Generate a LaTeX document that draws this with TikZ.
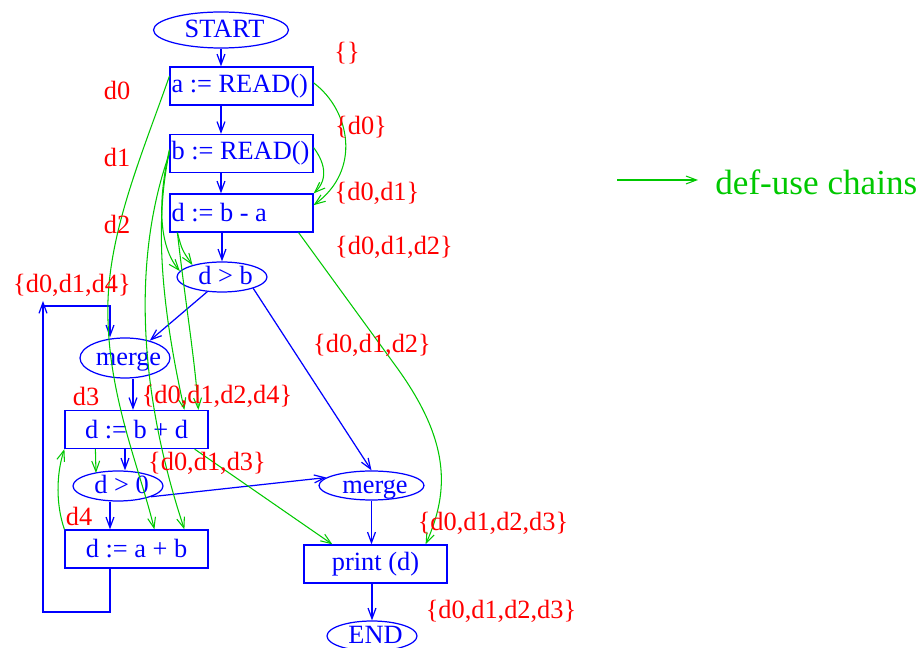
\documentclass[tikz,border=0pt]{standalone}
\usepackage{fontspec}
\setmainfont{Liberation Serif}
\usetikzlibrary{shapes.geometric,arrows.meta,calc}
\definecolor{fgblue}{RGB}{0,0,255}
\definecolor{fggreen}{RGB}{0,200,0}
\definecolor{fgred}{RGB}{255,0,0}
\begin{document}
\begin{tikzpicture}[x=0.02cm,y=-0.02cm,
 every node/.style={font=\fontsize{15}{18}\selectfont},
 bline/.style={draw=fgblue, line width=0.7pt, -{Straight Barb[length=6pt,width=4.5pt]}},
 gline/.style={draw=fggreen, line width=0.6pt, -{Straight Barb[length=6pt,width=4.5pt]}},
 box/.style={draw=fgblue, line width=0.7pt, text=fgblue, minimum width=2.86cm, minimum height=0.76cm, inner sep=0pt, align=center},
 lbox/.style={draw=fgblue, line width=0.7pt, text=fgblue, minimum width=2.86cm, inner xsep=0.03cm, inner ysep=0pt, minimum height=0.76cm},
 ell/.style={ellipse, draw=fgblue, line width=0.7pt, inner sep=0pt, label={[text=fgblue, inner sep=0pt, text height=8.6pt, text depth=0pt, xshift=0.07cm]center:#1}},
 lab/.style={text=fgred, inner sep=0pt},
]
\useasboundingbox (0,0) rectangle (924,648);

% flow graph nodes
\node[ell=START, minimum width=2.7cm, minimum height=0.72cm] (start) at (221,30) {};
\node[lbox] (a) at (241.5,86) {\makebox[2.8cm][l]{a := READ()}};
\node[lbox] (b) at (241.5,153.5) {\makebox[2.8cm][l]{b := READ()}};
\node[lbox] (dba) at (241.5,213) {\makebox[2.8cm][l]{d := b - a}};
\node[ell={d > b}, minimum width=1.8cm, minimum height=0.6cm] (dgb) at (222,277) {};
\node[ell=merge, minimum width=1.8cm, minimum height=0.8cm] (mergeL) at (125,358) {};
\node[box] (dbd) at (136.5,429.5) {d := b + d};
\node[ell={d > 0}, minimum width=1.8cm, minimum height=0.6cm] (dg0) at (118,486) {};
\node[box] (dab) at (136.5,549) {d := a + b};
\node[ell=merge, minimum width=2.1cm, minimum height=0.58cm] (mergeR) at (371.5,485.5) {};
\node[box] (print) at (375.5,564) {print (d)};
\node[ell=END, minimum width=1.8cm, minimum height=0.6cm] (end) at (372,636) {};

% control flow (blue)
\draw[bline] (start.south) -- (start.south |- a.north);
\draw[bline] (start.south |- a.south) -- (start.south |- b.north);
\draw[bline] (start.south |- b.south) -- (start.south |- dba.north);
\draw[bline] (dgb.north |- dba.south) -- (dgb.north);
\draw[bline] (dgb.225) -- (mergeL.35);
\draw[bline] (dgb.-20) -- (mergeR.north);
\coordinate (l1) at (110,612);
\coordinate (l2) at (43,612);
\coordinate (l3) at (43,301);
\coordinate (l4) at (43,306);
\coordinate (l5) at (110,306);
\draw[bline] (dab.south -| l1) -- (l1) -- (l2) -- (l3);
\draw[bline] (l4) -- (l5) -- (l5 |- mergeL.north);
\coordinate (m1) at ($(mergeL.south)+(8,0)$);
\draw[bline] (m1) -- (m1 |- dbd.north);
\coordinate (m2) at ($(dbd.south)+(-11.5,0)$);
\draw[bline] (m2) -- (m2 |- dg0.north);
\coordinate (m3) at ($(dg0.south)+(-8,0)$);
\draw[bline] (m3) -- (m3 |- dab.north);
\draw[bline] (dg0.-18) -- (mergeR.170);
\draw[bline] (mergeR.south) -- (mergeR.south |- print.north);
\draw[bline] (end.north |- print.south) -- (end.north);

% def-use chains (green)
\draw[gline] ($(a.north east)!0.42!(a.south east)$) .. controls (350,110) and (362,170) .. ($(dba.north east)!0.3!(dba.south east)$);
\draw[gline] ($(b.north east)!0.35!(b.south east)$) .. controls (323,160) and (330,178) .. (dba.north east);
\draw[gline] ($(a.north west)!0.25!(a.south west)$) .. controls (140,160) and (105,240) .. (108,320) .. controls (110,400) and (140,470) .. ($(dab.north west)+(90,0)$);
\draw[gline] ($(b.north west)!0.4!(b.south west)$) .. controls (158,200) and (158,245) .. (dgb.172);
\draw[gline] ($(b.north west)!0.45!(b.south west)$) .. controls (155,220) and (160,300) .. ($(dbd.north west)+(120,0)$);
\draw[gline] ($(b.north west)!0.5!(b.south west)$) .. controls (135,250) and (135,380) .. ($(dab.north west)+(120,0)$);
\draw[gline] ($(dba.south west)+(8,0)$) .. controls (182,250) .. (dgb.158);
\draw[gline] ($(dba.south west)+(8,0)$) .. controls (185,300) and (195,360) .. ($(dbd.north west)+(134,0)$);
\coordinate (g9) at (395,365);
\draw[gline] ($(dba.south east)+(-15,0)$) -- (g9) .. controls (450,440) and (450,490) .. ($(print.north east)+(-22,0)$);
\draw[gline] ($(dbd.south east)+(-14,0)$) -- ($(print.north west)+(29,0)$);
\coordinate (g11) at ($(dbd.south west)+(31,0)$);
\draw[gline] (g11) -- ($(dg0.center)+(-22,-13)$);
\draw[gline] (dab.north west) .. controls (56,505) and (56,475) .. (dbd.south west);

% red labels
\node[lab] (s0) at (347,53) {\{\}};
\node[lab] (s1) at (361,127) {\{d0\}};
\node[lab] (s2) at (377,193) {\{d0,d1\}};
\node[lab] (s3) at (394,247) {\{d0,d1,d2\}};
\node[lab] (s4) at (72,285) {\{d0,d1,d4\}};
\node[lab] (s5) at (372,345) {\{d0,d1,d2\}};
\node[lab] (s6) at (217,396) {\{d0,d1,d2,d4\}};
\node[lab] (s7) at (207,463) {\{d0,d1,d3\}};
\node[lab] (s8) at (493,523) {\{d0,d1,d2,d3\}};
\node[lab] (s9) at (501,611) {\{d0,d1,d2,d3\}};
\node[lab] (d0) at (117,90) {d0};
\node[lab] (d1) at (117,157) {d1};
\node[lab] (d2) at (117,224) {d2};
\node[lab] (d3) at (86,396) {d3};
\node[lab] (d4) at (79,516) {d4};

% legend
\coordinate (lg1) at (617,180);
\coordinate (lg2) at (698,180);
\draw[gline] (lg1) -- (lg2);
\node[text=fggreen, anchor=base west, inner sep=0pt, font=\fontsize{20}{24}\selectfont] (legend) at (715,195) {def-use chains};
\end{tikzpicture}
\end{document}
